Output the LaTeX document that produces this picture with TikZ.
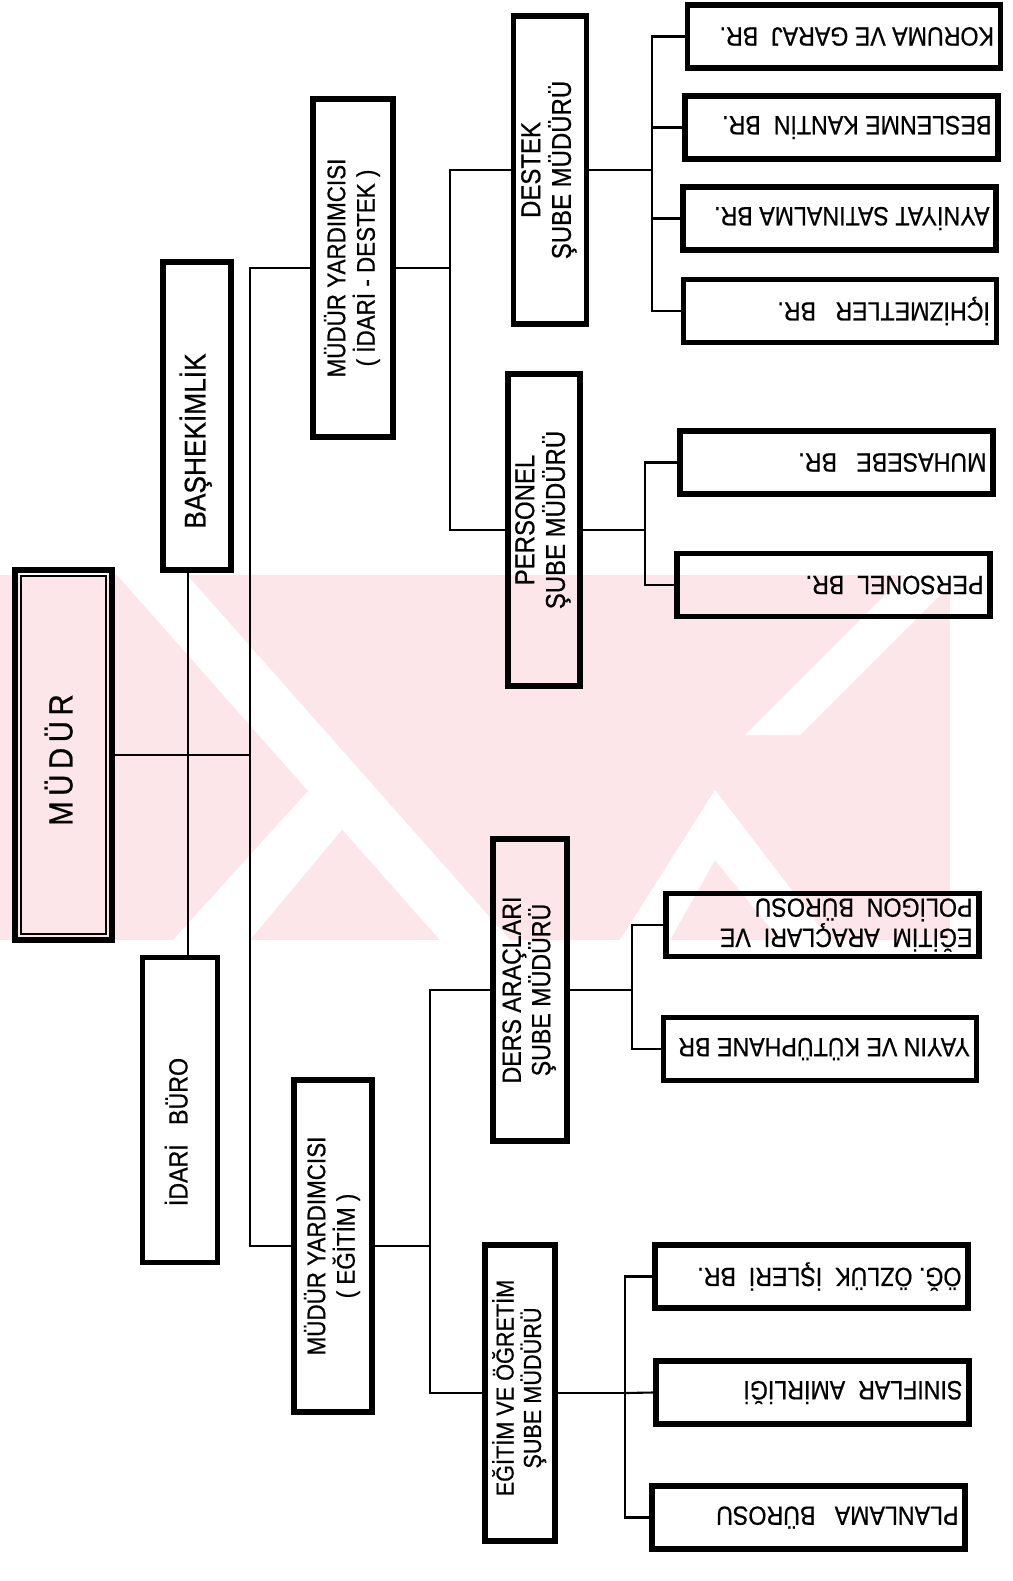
\documentclass[tikz,border=0pt]{standalone}
\usepackage{fontspec}
\setmainfont{Liberation Sans}[FakeStretch=0.88, FakeBold=0.6]
\usepackage{graphicx}
\definecolor{wmPink}{RGB}{252,230,234}

\newcommand{\vlabel}[2][0pt]{\rotatebox{90}{\hspace*{#1}\begin{tabular}{@{}c@{}}#2\end{tabular}\hspace*{-#1}}}
\newcommand{\flabel}[1]{\rotatebox{180}{\parbox{6.0cm}{\raggedright #1}}}

\begin{document}
\begin{tikzpicture}
[x=0.02cm, y=-0.02cm,
  lineDecorate/.style={line width=1.2pt},%
  boxDecorate/.style={draw, line width=3.2pt, inner sep=0pt},%
  leafDecorate/.style={boxDecorate, minimum width=6.26cm, minimum height=1.26cm,
    font=\fontsize{15}{12}\selectfont}]
\useasboundingbox (0,0) rectangle (1012,1581);
%% watermark
\fill[wmPink] (0,575) rectangle (950,940);
\fill[white] (117,575) -- (187,575) -- (510,940) -- (440,940) -- cycle;
\fill[white] (173,940) -- (250,940) -- (350,820) -- (308,791) -- cycle;
\fill[white] (745,735) -- (800,735) -- (960,575) -- (905,575) -- cycle;
\fill[white] (620,940) -- (715,790) -- (830,940) -- (780,940) -- (715,860) -- (670,940) -- cycle;
%% main boxes
\node (mudur) at (63.5,755) [boxDecorate, line width=3.6pt, minimum width=1.94cm,
  minimum height=7.4cm, font=\fontsize{19}{19}\selectfont] {\vlabel[-0.1cm]{M\,Ü\,D\,Ü\,R}};
\draw[line width=1.2pt] ([xshift=5pt,yshift=-5pt]mudur.north west)
  rectangle ([xshift=-5pt,yshift=5pt]mudur.south east);
\node (bashek) at (197,416) [boxDecorate, minimum width=1.36cm, minimum height=6.16cm,
  font=\fontsize{17}{17}\selectfont] {\vlabel[-0.5cm]{BAŞHEKİMLİK}};
\node (idari) at (180,1110) [boxDecorate, minimum width=1.5cm, minimum height=6.1cm,
  font=\fontsize{15}{15}\selectfont] {\vlabel[-0.44cm]{İDARİ~~~BÜRO}};
\node (myidari) at (353,268) [boxDecorate, minimum width=1.6cm, minimum height=6.76cm,
  font=\fontsize{14.5}{14}\selectfont] {\vlabel{MÜDÜR YARDIMCISI\\( İDARİ - DESTEK )}};
\node (myegitim) at (333,1246) [boxDecorate, minimum width=1.56cm, minimum height=6.64cm,
  font=\fontsize{14.5}{14}\selectfont] {\vlabel{MÜDÜR YARDIMCISI\\( EĞİTİM )}};
\node (destek) at (550,170) [boxDecorate, minimum width=1.46cm, minimum height=6.16cm,
  font=\fontsize{15.5}{15}\selectfont] {\vlabel{DESTEK\\ŞUBE MÜDÜRÜ}};
\node (personelsm) at (544,530) [boxDecorate, minimum width=1.44cm, minimum height=6.24cm,
  font=\fontsize{15.5}{15}\selectfont] {\vlabel[0.2cm]{PERSONEL\\ŞUBE MÜDÜRÜ}};
\node (dersarac) at (530,990) [boxDecorate, minimum width=1.48cm, minimum height=6.04cm,
  font=\fontsize{15}{14}\selectfont] {\vlabel{DERS ARAÇLARI\\ŞUBE MÜDÜRÜ}};
\node (egitimogretim) at (520,1393) [boxDecorate, minimum width=1.4cm, minimum height=5.92cm,
  font=\fontsize{14}{13}\selectfont] {\vlabel[0.1cm]{EĞİTİM VE ÖĞRETİM\\ŞUBE MÜDÜRÜ}};
%% units (text upside down)
\foreach \nodename/\x/\y/\txt in {
  koruma/844/36.5/{KORUMA VE GARAJ~ BR.},
  beslenme/841.5/127.5/{BESLENME KANTİN~ BR.},
  ayniyat/839.5/218.5/{AYNİYAT SATINALMA BR.},
  ichizmet/840/311/{İÇHİZMETLER~~ BR.},
  muhasebe/836.5/462.5/{MUHASEBE~~ BR.},
  personelbr/833.5/585/{PERSONEL~ BR.},
  egitimarac/822.5/925/{EĞİTİM~ ARAÇLARI~ VE\\POLİGON~ BÜROSU},
  yayin/820/1049/{YAYIN VE KÜTÜPHANE BR},
  ogozluk/811.5/1276.5/{ÖĞ. ÖZLÜK~ İŞLERİ~ BR.},
  siniflar/812.5/1392.5/{SINIFLAR~ AMİRLİĞİ},
  planlama/808.5/1517.5/{PLANLAMA~~ BÜROSU}}
{
  \node (\nodename) at (\x,\y) [leafDecorate] {\flabel{\txt}};
}
%% connectors
\coordinate (trunk) at (250,755);
\coordinate (stem) at (188,0);
\coordinate (joinA) at (450,268);
\coordinate (joinD) at (652,170);
\coordinate (joinP) at (645,530);
\coordinate (joinE) at (430,1246);
\coordinate (joinR) at (632,990);
\coordinate (joinO) at (625,1393);
\draw[lineDecorate] (mudur.east) -- (trunk);
\draw[lineDecorate] (bashek.south -| stem) -- (idari.north -| stem);
\draw[lineDecorate] (myidari.west) -| (trunk) |- (myegitim.west);
\draw[lineDecorate] (myidari.east) -- (joinA);
\draw[lineDecorate] (destek.west) -| (joinA) |- (personelsm.west);
\draw[lineDecorate] (destek.east) -- (joinD);
\draw[lineDecorate] (koruma.west) -| (joinD) |- (ichizmet.west);
\foreach \nodename in {beslenme, ayniyat}
  \draw[lineDecorate] (joinD |- \nodename.west) -- (\nodename.west);
\draw[lineDecorate] (personelsm.east) -- (joinP);
\draw[lineDecorate] (muhasebe.west) -| (joinP) |- (personelbr.west);
\draw[lineDecorate] (myegitim.east) -- (joinE);
\draw[lineDecorate] (dersarac.west) -| (joinE) |- (egitimogretim.west);
\draw[lineDecorate] (dersarac.east) -- (joinR);
\draw[lineDecorate] (egitimarac.west) -| (joinR) |- (yayin.west);
\draw[lineDecorate] (egitimogretim.east) -- (joinO);
\draw[lineDecorate] (ogozluk.west) -| (joinO) |- (planlama.west);
\draw[lineDecorate] (joinO) -- (siniflar.west);
\end{tikzpicture}
\end{document}
